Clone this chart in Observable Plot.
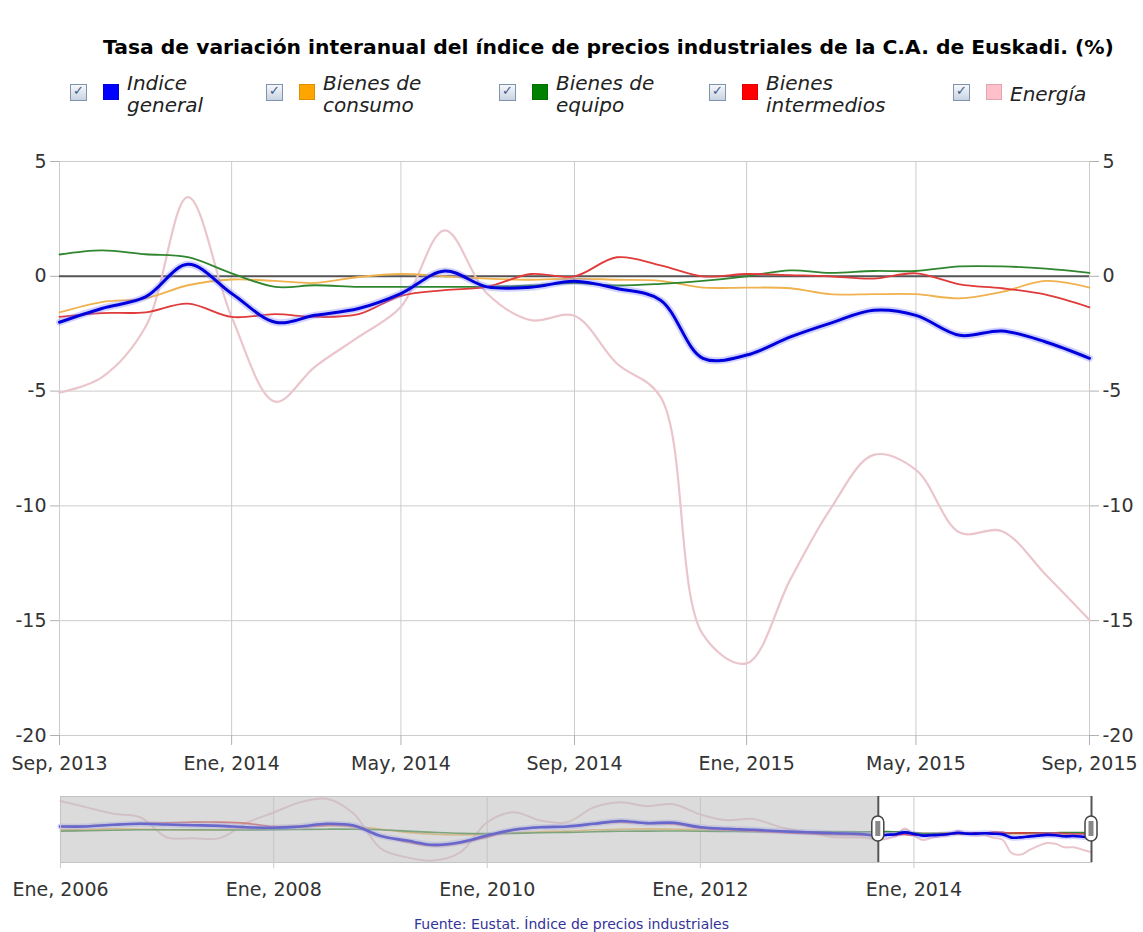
<!DOCTYPE html>
<html>
<head>
<meta charset="utf-8">
<script src="https://cdn.jsdelivr.net/npm/d3@7"></script>
<script src="https://cdn.jsdelivr.net/npm/@observablehq/plot@0.6"></script>
<style>
  body { margin: 0; background: #fff; font-family: "DejaVu Sans", Verdana, sans-serif; }
  #wrap { position: relative; width: 1143px; height: 932px; overflow: hidden; background: #fff; }
  .title { position: absolute; left: 37px; width: 1143px; top: 35px; line-height: 24px; text-align: center;
           font-weight: bold; font-size: 20.3px; color: #000; white-space: nowrap; }
  .cb { position: absolute; top: 84px; width: 15px; height: 15px; border: 1px solid #7f93ad;
        background: linear-gradient(#f5f7fb, #c9d3e2); box-sizing: content-box; }
  .cb span { position: absolute; left: 2px; top: -2px; font-size: 13px; color: #3d5a8a; font-weight: bold; }
  .sw { position: absolute; top: 84px; width: 16px; height: 16px; box-sizing: border-box; }
  .lt { position: absolute; top: 72px; height: 44px; display: flex; align-items: center;
        font-style: italic; font-size: 20px; line-height: 22px; color: #222; width: 130px; }
  #main { position: absolute; left: 0; top: 140px; }
  #nav { position: absolute; left: 0; top: 790px; }
  .src { position: absolute; left: 0; width: 1143px; top: 916px; text-align: center; font-size: 14px; color: #333399; }
</style>
</head>
<body>
<div id="wrap">
  <div class="title">Tasa de variación interanual del índice de precios industriales de la C.A. de Euskadi. (%)</div>
  <div id="legend"></div>
  <div id="main"></div>
  <div id="nav"></div>
  <div class="src">Fuente: Eustat. Índice de precios industriales</div>
</div>
<script>
// ---------- data ----------
const monthsEs = ["Ene","Feb","Mar","Abr","May","Jun","Jul","Ago","Sep","Oct","Nov","Dic"];

const seriesNames = ["Indice general", "Bienes de consumo", "Bienes de equipo", "Bienes intermedios", "Energía"];
const legendColors = ["#0000ff", "#ffa500", "#008000", "#ff0000", "#ffc0cb"];
const lineColors = ["#0000dd", "#efb24e", "#2f862f", "#e03a3a", "#eac6cc"];

// monthly values, Sep 2013 .. Sep 2015 (main chart)
const mainMonths = ["2013-09","2013-10","2013-11","2013-12","2014-01","2014-02","2014-03","2014-04","2014-05",
  "2014-06","2014-07","2014-08","2014-09","2014-10","2014-11","2014-12","2015-01","2015-02","2015-03",
  "2015-04","2015-05","2015-06","2015-07","2015-08","2015-09"];
const indiceGeneral = [-2.0,-1.4,-0.9,0.52,-0.75,-2.0,-1.7,-1.4,-0.75,0.23,-0.46,-0.48,-0.22,-0.53,-1.04,
  -3.57,-3.43,-2.64,-2.05,-1.48,-1.7,-2.57,-2.38,-2.86,-3.57];
const bienesConsumo = [-1.57,-1.12,-0.96,-0.39,-0.14,-0.2,-0.29,-0.03,0.1,0.0,-0.1,-0.15,-0.1,-0.15,-0.2,
  -0.49,-0.49,-0.52,-0.78,-0.78,-0.78,-0.96,-0.68,-0.2,-0.49];
const bienesEquipo = [0.95,1.13,0.96,0.83,0.13,-0.46,-0.39,-0.46,-0.46,-0.46,-0.46,-0.4,-0.3,-0.4,-0.33,
  -0.2,0.0,0.26,0.15,0.23,0.23,0.43,0.43,0.33,0.15];
const bienesIntermedios = [-1.77,-1.6,-1.57,-1.19,-1.77,-1.65,-1.77,-1.65,-0.85,-0.6,-0.46,0.1,0.0,0.83,0.48,
  0.0,0.1,0.05,0.0,-0.1,0.13,-0.35,-0.52,-0.8,-1.35];
const energia = [-5.07,-4.4,-2.2,3.45,-1.77,-5.46,-3.94,-2.64,-1.33,2.0,-0.75,-1.91,-1.72,-3.8,-5.25,
  -15.6,-16.86,-13.2,-10.17,-7.78,-8.43,-11.16,-11.1,-13.0,-14.97];

// earlier history shown in the navigator (read every 3 months), Jan 2006 .. Jul 2013
const histMonths = ["2006-01","2006-04","2006-07","2006-10","2007-01","2007-04","2007-07","2007-10",
  "2008-01","2008-04","2008-07","2008-10","2009-01","2009-04","2009-07","2009-10","2010-01","2010-04",
  "2010-07","2010-10","2011-01","2011-04","2011-07","2011-10","2012-01","2012-04","2012-07","2012-10",
  "2013-01","2013-04","2013-07"];
const histIndice = [5.1,5.1,6.4,7.2,6.6,6.1,5.6,4.5,4.1,5.1,7.2,5.9,-2.3,-5.9,-9.2,-7.2,-2.0,2.5,4.5,5.1,
  7.2,9.4,7.7,8.0,4.5,3.3,2.5,1.4,0.6,-0.2,-0.8];
const histConsumo = [2.5,2.8,3.2,3.0,2.5,2.3,2.6,3.5,5.0,5.5,5.8,5.0,3.0,0.5,-1.0,-1.5,-1.0,0.0,1.0,1.5,
  2.5,3.0,3.2,3.0,2.5,2.0,1.5,1.2,0.5,-0.5,-1.2];
const histEquipo = [1.5,1.8,2.2,2.5,2.6,2.5,2.4,2.4,2.5,2.8,3.0,3.0,2.5,1.5,0.5,-0.3,-0.5,-0.3,0.2,0.5,
  1.0,1.4,1.5,1.6,1.4,1.2,1.1,1.0,1.0,0.9,0.9];
const histIntermedios = [5,5.5,6.5,7.5,8,8.5,8.5,7.5,5,4.5,6,5,-2,-7,-10,-8,-3,2,4.5,5,7,8.5,7.5,7,4,2.5,
  1.5,0.5,-0.5,-1.2,-1.5];
const histEnergia = [25,20,15,12.3,-3.5,-4,-4,8,16,24,26.7,15,-12,-19,-21.5,-15,8.4,16.3,9.8,8.4,20,24,21,
  22.5,14.5,10,11,4.5,0.6,-3.3,-3.5];

const mainTickMonths = ["2013-09","2014-01","2014-05","2014-09","2015-01","2015-05","2015-09"];
const yTicks = [5,0,-5,-10,-15,-20];
const navTickMonths = ["2006-01","2008-01","2010-01","2012-01","2014-01"];
const navStart = "2006-01", navEnd = "2015-09";

// ---------- helpers ----------
const parse = s => new Date(s + "-01T00:00:00Z");
const fmt = d => `${monthsEs[d.getUTCMonth()]}, ${d.getUTCFullYear()}`;
const yFmt = d => String(d);
const mainSeries = [indiceGeneral, bienesConsumo, bienesEquipo, bienesIntermedios, energia];
const histSeries = [histIndice, histConsumo, histEquipo, histIntermedios, histEnergia];

const mainRows = seriesNames.map((name, k) => mainMonths.map((m, i) => ({date: parse(m), value: mainSeries[k][i], series: name})));
const navRows = seriesNames.map((name, k) => [
  ...histMonths.map((m, i) => ({date: parse(m), value: histSeries[k][i], series: name})),
  ...mainRows[k]
]);

// ---------- legend ----------
const legendLeft = [70, 266, 499, 709, 953];
const legend = document.getElementById("legend");
seriesNames.forEach((name, k) => {
  const L = legendLeft[k];
  const cb = document.createElement("div");
  cb.className = "cb"; cb.style.left = L + "px";
  cb.innerHTML = "<span>✓</span>";
  const sw = document.createElement("div");
  sw.className = "sw"; sw.style.left = (L + 33) + "px"; sw.style.background = legendColors[k];
  sw.style.border = "1px solid " + d3.color(legendColors[k]).darker(0.4);
  const lt = document.createElement("div");
  lt.className = "lt"; lt.style.left = (L + 57) + "px"; lt.textContent = name;
  legend.append(cb, sw, lt);
});

// ---------- main chart ----------
const order = [4, 1, 2, 3];
const mainTicks = mainTickMonths.map(parse);
const curve = "catmull-rom";
const main = Plot.plot({
  width: 1143, height: 650,
  marginLeft: 59, marginRight: 54, marginTop: 21, marginBottom: 55,
  x: {type: "utc", domain: [parse(mainMonths[0]), parse(mainMonths[mainMonths.length - 1])], label: null},
  y: {domain: [-20, 5], label: null},
  style: {fontFamily: "DejaVu Sans, Verdana, sans-serif", fontSize: "19px", color: "#333", background: "transparent", overflow: "visible"},
  marks: [
    Plot.gridY(yTicks, {stroke: "#cccccc", strokeOpacity: 1}),
    Plot.gridX(mainTicks, {stroke: "#cccccc", strokeOpacity: 1}),
    Plot.axisY(yTicks, {anchor: "left", tickSize: 9, tickPadding: 4, tickFormat: yFmt, stroke: "#b0b0b0", fill: "#333"}),
    Plot.axisY(yTicks, {anchor: "right", tickSize: 9, tickPadding: 4, tickFormat: yFmt, stroke: "#b0b0b0", fill: "#333"}),
    Plot.axisX(mainTicks, {tickFormat: fmt, tickSize: 10, tickPadding: 11, stroke: "#b0b0b0", fill: "#333"}),
    Plot.ruleY([0], {stroke: "#555", strokeWidth: 2}),
    ...order.map(k => Plot.line(mainRows[k], {x: "date", y: "value", stroke: lineColors[k], strokeWidth: k === 4 ? 2.2 : 1.8, curve})),
    Plot.line(mainRows[0], {x: "date", y: "value", stroke: "#7d7dff", strokeOpacity: 0.35, strokeWidth: 7, curve}),
    Plot.line(mainRows[0], {x: "date", y: "value", stroke: lineColors[0], strokeWidth: 3, curve})
  ]
});
document.getElementById("main").append(main);

// ---------- navigator ----------
const selStart = parse(mainMonths[0]), selEnd = parse(mainMonths[mainMonths.length - 1]);
const nav = Plot.plot({
  width: 1143, height: 120,
  marginLeft: 60, marginRight: 52, marginTop: 6, marginBottom: 48,
  x: {type: "utc", domain: [parse(navStart), parse(navEnd)], label: null},
  y: {domain: [-23, 28.5], axis: null},
  style: {fontFamily: "DejaVu Sans, Verdana, sans-serif", fontSize: "19px", color: "#333", background: "transparent", overflow: "visible"},
  marks: [
    Plot.gridX(navTickMonths.map(parse), {stroke: "#cccccc", strokeOpacity: 1}),
    ...order.map(k => Plot.line(navRows[k], {x: "date", y: "value", stroke: lineColors[k], strokeWidth: k === 4 ? 2 : 1.6, curve})),
    Plot.line(navRows[0], {x: "date", y: "value", stroke: "#7d7dff", strokeOpacity: 0.35, strokeWidth: 6, curve}),
    Plot.line(navRows[0], {x: "date", y: "value", stroke: lineColors[0], strokeWidth: 2.6, curve}),
    Plot.rect([{a: parse(navStart), b: selStart}], {x1: "a", x2: "b", fill: "#bdbdbd", fillOpacity: 0.55}),
    Plot.frame({stroke: "#c4c4c4"}),
    Plot.axisX(navTickMonths.map(parse), {tickFormat: fmt, tickSize: 6, tickPadding: 14, stroke: "#cccccc", fill: "#333"}),
    Plot.ruleX([selStart, selEnd], {stroke: "#555", strokeWidth: 2}),
    Plot.rect([selStart, selEnd], {x1: d => d, x2: d => d, insetLeft: -6, insetRight: -6, insetTop: 20, insetBottom: 21,
      rx: 6, fill: "#fff", stroke: "#444", strokeWidth: 1.5}),
    Plot.rect([selStart, selEnd], {x1: d => d, x2: d => d, insetLeft: -2.5, insetRight: -2.5, insetTop: 25, insetBottom: 26,
      fill: "#888"})
  ]
});
document.getElementById("nav").append(nav);
</script>
</body>
</html>
